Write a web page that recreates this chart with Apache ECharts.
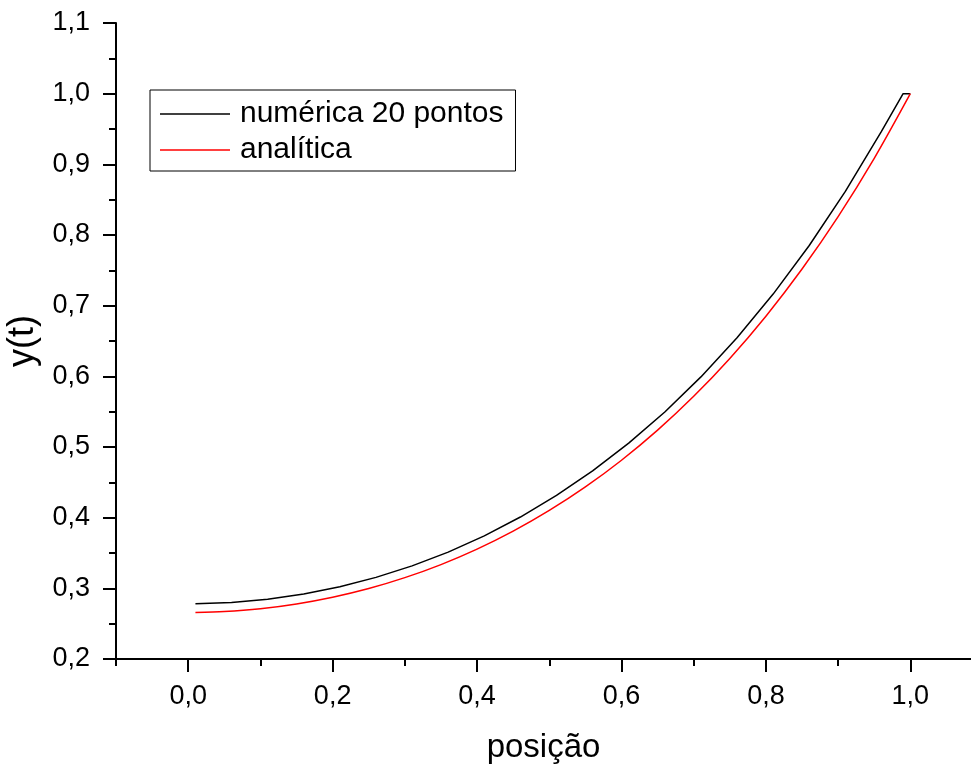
<!DOCTYPE html>
<html>
<head>
<meta charset="utf-8">
<title>y(t) - numérica vs analítica</title>
<script src="https://cdn.jsdelivr.net/npm/echarts@6/dist/echarts.min.js"></script>
<style>
  html, body { margin: 0; padding: 0; background: #fff; }
  #chart { width: 971px; height: 764px; }
</style>
</head>
<body>
<div id="chart"></div>
<script>
// solucao numerica (20 pontos)
var numX = [0.01, 0.06, 0.11, 0.16, 0.21, 0.26, 0.31, 0.36, 0.41, 0.46, 0.51,
            0.56, 0.61, 0.66, 0.71, 0.76, 0.81, 0.86, 0.91, 0.96, 0.99, 1.00];
var numY = [0.2781, 0.2800, 0.2846, 0.2920, 0.3023, 0.3155, 0.3318, 0.3513, 0.3743, 0.4009, 0.4314,
            0.4661, 0.5054, 0.5496, 0.5992, 0.6546, 0.7164, 0.7852, 0.8617, 0.9466, 1.0000, 1.0000];

// solucao analitica
var anaX = [0.01, 0.05, 0.10, 0.15, 0.20, 0.25, 0.30, 0.35, 0.40, 0.45, 0.50,
            0.55, 0.60, 0.65, 0.70, 0.75, 0.80, 0.85, 0.90, 0.95, 1.00];
var anaY = [0.2659, 0.2671, 0.2711, 0.2779, 0.2874, 0.2997, 0.3151, 0.3336, 0.3555, 0.3809, 0.4102,
            0.4435, 0.4813, 0.5239, 0.5717, 0.6253, 0.6851, 0.7518, 0.8260, 0.9085, 1.0000];

var majorX = [0.0, 0.2, 0.4, 0.6, 0.8, 1.0];
var minorX = [-0.1, 0.1, 0.3, 0.5, 0.7, 0.9];

var seriesNames = ['numérica 20 pontos', 'analítica'];

var FONT = "'Liberation Sans', Arial, Helvetica, sans-serif";

function pairs(xs, ys) {
    var out = [];
    for (var i = 0; i < xs.length; i++) {
        out.push([xs[i], ys[i]]);
    }
    return out;
}

function comma(v) {
    return v.toFixed(1).replace('.', ',');
}

var myChart = echarts.init(document.getElementById('chart'));
var option = {
    animation: false,
    backgroundColor: '#fff',
    grid: {
        left: 116,
        right: 0,
        top: 23,
        bottom: 105,
        containLabel: false,
        outerBoundsMode: 'none'
    },
    legend: {
        orient: 'vertical',
        left: 150,
        top: 90,
        padding: [9, 12, 6, 10],
        itemWidth: 70,
        itemHeight: 28,
        itemGap: 6,
        icon: 'path://M0,0 L70,0 L70,1.3 L0,1.3 Z',
        borderColor: '#000',
        borderWidth: 1,
        backgroundColor: '#fff',
        textStyle: {
            fontFamily: FONT,
            fontSize: 30,
            color: '#000',
            padding: [0, 0, 0, 5]
        },
        data: seriesNames
    },
    xAxis: [
        {
            type: 'value',
            position: 'bottom',
            min: -0.1,
            max: 1.084,
            splitLine: { show: false },
            axisLine: { onZero: false, lineStyle: { color: '#000', width: 2 } },
            axisTick: {
                customValues: majorX,
                length: 13,
                lineStyle: { color: '#000', width: 2 }
            },
            axisLabel: {
                customValues: majorX,
                margin: 24,
                fontFamily: FONT,
                fontSize: 27,
                color: '#000',
                formatter: comma
            },
            name: 'posição',
            nameLocation: 'middle',
            nameGap: 72,
            nameTextStyle: { fontFamily: FONT, fontSize: 33, color: '#000' }
        },
        {
            type: 'value',
            position: 'bottom',
            min: -0.1,
            max: 1.084,
            splitLine: { show: false },
            axisLine: { show: false, onZero: false },
            axisTick: {
                customValues: minorX,
                length: 7,
                lineStyle: { color: '#000', width: 2 }
            },
            axisLabel: { show: false }
        }
    ],
    yAxis: {
        type: 'value',
        min: 0.2,
        max: 1.1,
        interval: 0.1,
        splitLine: { show: false },
        axisLine: { show: true, onZero: false, lineStyle: { color: '#000', width: 2 } },
        axisTick: { show: true, length: 13, lineStyle: { color: '#000', width: 2 } },
        minorTick: { show: true, splitNumber: 2, length: 7, lineStyle: { color: '#000', width: 2 } },
        axisLabel: {
            margin: 26,
            fontFamily: FONT,
            fontSize: 27,
            color: '#000',
            formatter: comma
        },
        name: 'y(t)',
        nameLocation: 'middle',
        nameGap: 58,
        nameRotate: 90,
        nameTextStyle: { fontFamily: FONT, fontSize: 36, color: '#000' }
    },
    series: [
        {
            name: seriesNames[0],
            type: 'line',
            xAxisIndex: 0,
            symbol: 'none',
            lineStyle: { color: '#000', width: 1.5 },
            itemStyle: { color: '#000' },
            data: pairs(numX, numY)
        },
        {
            name: seriesNames[1],
            type: 'line',
            xAxisIndex: 0,
            symbol: 'none',
            smooth: 0.3,
            lineStyle: { color: '#ff0000', width: 1.5 },
            itemStyle: { color: '#ff0000' },
            data: pairs(anaX, anaY)
        }
    ]
};
myChart.setOption(option);
</script>
</body>
</html>
